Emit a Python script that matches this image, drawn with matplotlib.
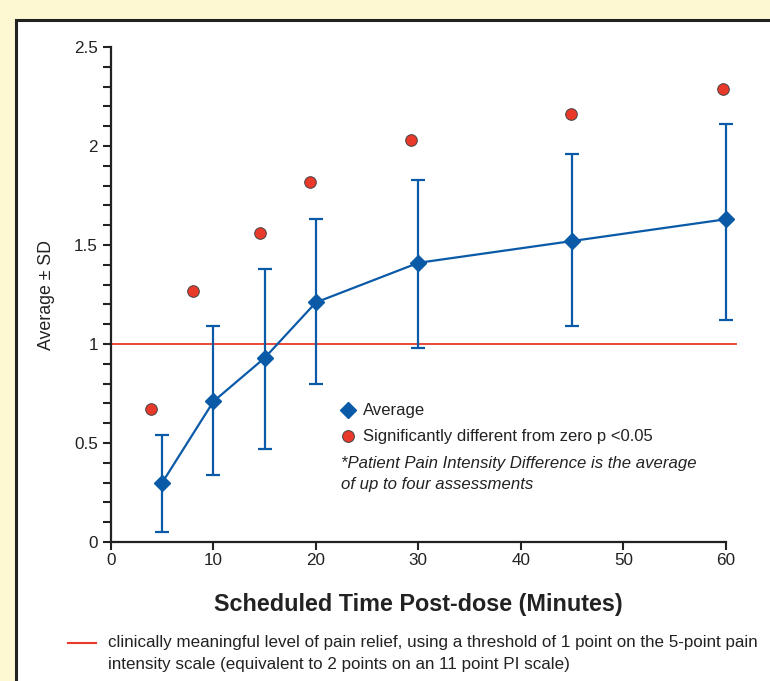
import matplotlib.pyplot as plt
from matplotlib.patches import Rectangle
from matplotlib.lines import Line2D

# data
times = [5, 10, 15, 20, 30, 45, 60]
average = [0.30, 0.71, 0.93, 1.21, 1.41, 1.52, 1.63]
sd_upper = [0.54, 1.09, 1.38, 1.63, 1.83, 1.96, 2.11]
sd_lower = [0.05, 0.34, 0.47, 0.80, 0.98, 1.09, 1.12]
sig_x = [3.9, 8.0, 14.5, 19.4, 29.3, 44.9, 59.7]
sig_y = [0.67, 1.27, 1.56, 1.82, 2.03, 2.16, 2.29]
threshold = 1.0

footnote_lines = [
    'clinically meaningful level of pain relief, using a threshold of 1 point on the 5-point pain',
    'intensity scale (equivalent to 2 points on an 11 point PI scale)',
]

blue = '#0a5aa8'
red = '#e8392a'

plt.rcParams['font.family'] = ['Liberation Sans', 'DejaVu Sans']

fig = plt.figure(figsize=(7.7, 6.81), dpi=100)
fig.patch.set_facecolor('#fdf8d2')

# white panel with dark border
panel = Rectangle((16 / 770, -0.05), 1.0, 1 - 20 / 681 + 0.05, transform=fig.transFigure,
                  facecolor='white', edgecolor='#222222', linewidth=2.2, zorder=-5)
fig.patches.append(panel)

ax = fig.add_axes([111 / 770, 1 - 542 / 681, (736 - 111) / 770, (542 - 47) / 681])
ax.set_facecolor('none')

ax.plot([0, 61], [threshold, threshold], color=red, linewidth=1.3, clip_on=False, zorder=1)

err_lo = [a - l for a, l in zip(average, sd_lower)]
err_hi = [u - a for a, u in zip(average, sd_upper)]
ax.errorbar(times, average, yerr=[err_lo, err_hi], color=blue, linewidth=1.6,
            elinewidth=1.6, capsize=5, capthick=1.6, marker='D', markersize=8,
            markeredgecolor=blue, markerfacecolor=blue, zorder=3)
ax.scatter(sig_x, sig_y, s=70, color=red, edgecolor='#444444', linewidth=0.7, zorder=4)

ax.set_xlim(0, 61)
ax.set_ylim(0, 2.5)
ax.set_xticks(range(0, 61, 10))
ax.set_yticks([0, 0.5, 1, 1.5, 2, 2.5])
ax.set_yticklabels(['0', '0.5', '1', '1.5', '2', '2.5'])
ax.set_yticks([i / 10 for i in range(26)], minor=True)
for s in ['top', 'right']:
    ax.spines[s].set_visible(False)
ax.spines['bottom'].set_bounds(0, 60)
for s in ['left', 'bottom']:
    ax.spines[s].set_linewidth(1.6)
    ax.spines[s].set_color('#222222')
ax.tick_params(axis='both', which='major', length=6, width=1.5, labelsize=12.3, colors='#222222')
ax.tick_params(axis='y', which='minor', length=6, width=1.5, colors='#222222')
ax.tick_params(axis='x', pad=2)

ax.set_ylabel('Average ± SD', fontsize=12.8, color='#222222', labelpad=14)
fig.text(418 / 770, 1 - 604 / 681, 'Scheduled Time Post-dose (Minutes)', ha='center', va='center',
         fontsize=16.8, fontweight='bold', color='#222222')

# legend inside the plot
fig.add_artist(Line2D([348 / 770], [1 - 410 / 681], marker='D', color=blue, markersize=8,
                      linestyle='none', transform=fig.transFigure))
fig.add_artist(Line2D([348 / 770], [1 - 436 / 681], marker='o', markerfacecolor=red,
                      markeredgecolor='#444444', markeredgewidth=0.7, markersize=8.5,
                      linestyle='none', transform=fig.transFigure))
fig.text(363 / 770, 1 - 410 / 681, 'Average', va='center', fontsize=12, color='#222222')
fig.text(363 / 770, 1 - 436 / 681, 'Significantly different from zero p <0.05', va='center',
         fontsize=12, color='#222222')
fig.text(341 / 770, 1 - 474 / 681,
         '*Patient Pain Intensity Difference is the average\nof up to four assessments',
         va='center', fontsize=12.1, style='italic', color='#222222', linespacing=1.5)

# footnote
fig.add_artist(Line2D([68 / 770, 96 / 770], [1 - 643 / 681] * 2, color=red, linewidth=1.5,
                      transform=fig.transFigure))
for i, line in enumerate(footnote_lines):
    fig.text(108 / 770, 1 - (643 + 22 * i) / 681, line, va='center', fontsize=12.25,
             color='#222222')

fig.savefig('out.png', dpi=100, facecolor=fig.get_facecolor())
